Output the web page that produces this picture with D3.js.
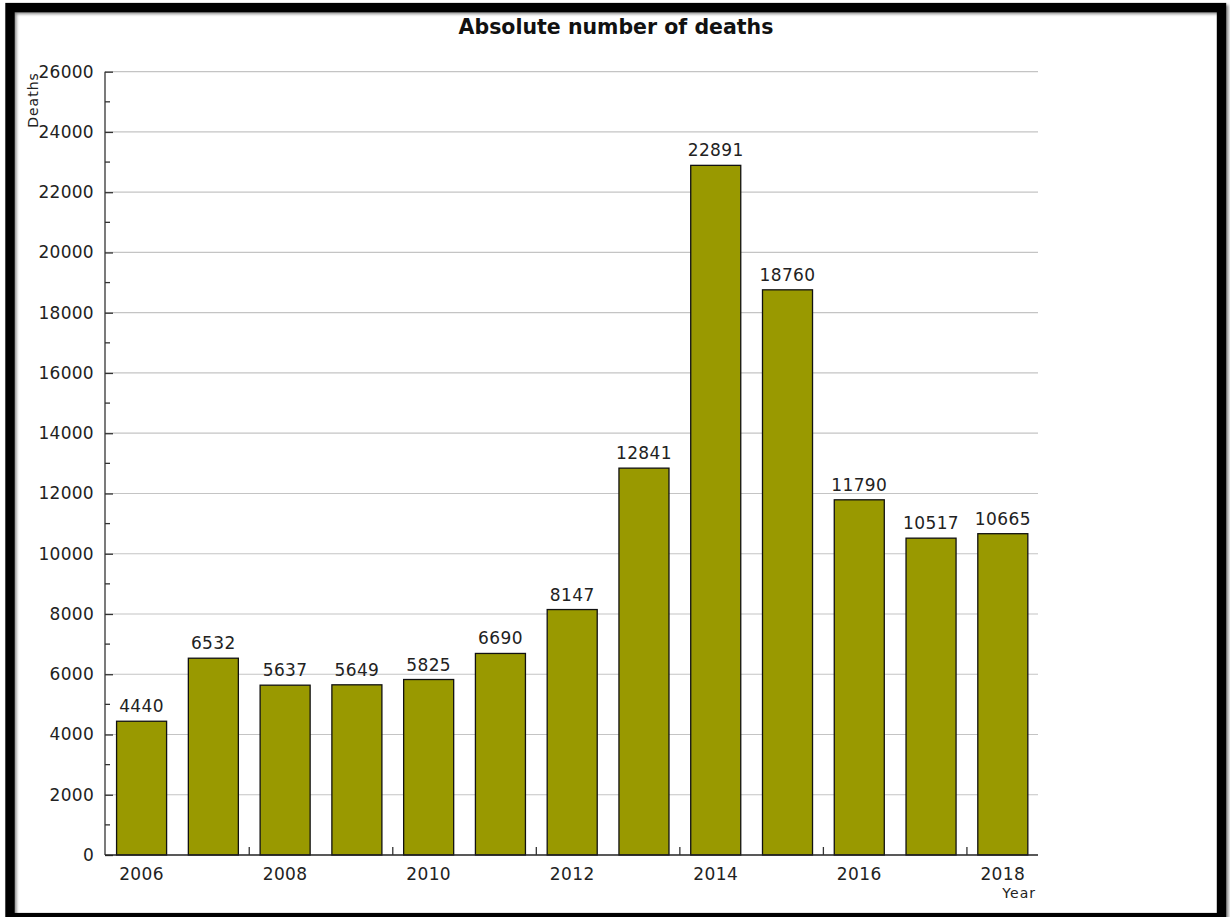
<!DOCTYPE html>
<html>
<head>
<meta charset="utf-8">
<script src="https://cdn.jsdelivr.net/npm/d3@7"></script>
<style>
  html, body { margin: 0; padding: 0; background: #fff; }
  svg { display: block; }
  text { font-family: "DejaVu Sans", sans-serif; fill: #222; }
</style>
</head>
<body>
<svg id="chart" width="1230" height="917"></svg>
<script>
// Absolute number of deaths per year
const years = ["2006", "2007", "2008", "2009", "2010", "2011", "2012",
               "2013", "2014", "2015", "2016", "2017", "2018"];
const deaths = [4440, 6532, 5637, 5649, 5825, 6690, 8147,
                12841, 22891, 18760, 11790, 10517, 10665];
const yTickValues = [0, 2000, 4000, 6000, 8000, 10000, 12000, 14000,
                     16000, 18000, 20000, 22000, 24000, 26000];
const xLabelYears = ["2006", "2008", "2010", "2012", "2014", "2016", "2018"];
const chartTitle = "Absolute number of deaths";
const yTitle = "Deaths";
const xTitle = "Year";

const data = years.map((y, i) => ({ year: y, value: deaths[i] }));

const svg = d3.select("#chart");

// plot box
const plotLeft = 105, plotRight = 1038, plotTop = 71.7, plotBottom = 855;

const x = d3.scaleBand()
  .domain(years)
  .range([plotLeft + 0.7, plotRight + 0.7])
  .paddingInner(0.303)
  .paddingOuter(0.1515);

const y = d3.scaleLinear()
  .domain([0, 26000])
  .range([plotBottom, plotTop]);

// frame with a soft shadow on the right
const defs = svg.append("defs");
const f = defs.append("filter").attr("id", "shadow")
  .attr("x", "-5%").attr("y", "-5%").attr("width", "110%").attr("height", "110%");
f.append("feGaussianBlur").attr("stdDeviation", 1.5);

svg.append("rect")
  .attr("x", 12).attr("y", 9.5)
  .attr("width", 1212).attr("height", 912)
  .attr("fill", "none").attr("stroke", "#888").attr("stroke-width", 9)
  .attr("filter", "url(#shadow)");
svg.append("rect")
  .attr("x", 10).attr("y", 7.6)
  .attr("width", 1211.5).attr("height", 910)
  .attr("fill", "none").attr("stroke", "#000").attr("stroke-width", 9.4);

// horizontal gridlines at the labelled ticks
svg.append("g")
  .selectAll("line")
  .data(yTickValues.filter(v => v > 0))
  .join("line")
  .attr("x1", plotLeft).attr("x2", plotRight)
  .attr("y1", d => y(d)).attr("y2", d => y(d))
  .attr("stroke", "#c4c4c4").attr("stroke-width", 1.2);

// bars
svg.append("g")
  .selectAll("rect")
  .data(data)
  .join("rect")
  .attr("x", d => x(d.year))
  .attr("y", d => y(d.value))
  .attr("width", x.bandwidth())
  .attr("height", d => y(0) - y(d.value))
  .attr("fill", "#999900")
  .attr("stroke", "#111")
  .attr("stroke-width", 1.3);

// value labels above bars
svg.append("g")
  .selectAll("text")
  .data(data)
  .join("text")
  .attr("x", d => x(d.year) + x.bandwidth() / 2)
  .attr("y", d => y(d.value) - 9)
  .attr("text-anchor", "middle")
  .style("font-size", "17px")
  .style("letter-spacing", "0.4px")
  .text(d => d.value);

// y axis: ticks point into the plot, minor ticks between
const yAxis = d3.axisRight(y)
  .tickValues(yTickValues)
  .tickSize(8)
  .tickFormat("");
const gy = svg.append("g").attr("transform", `translate(${plotLeft},0)`).call(yAxis);
gy.select(".domain").attr("stroke", "#333").attr("stroke-width", 1.3)
  .attr("d", `M0,${plotBottom}V${plotTop}`);
gy.selectAll(".tick line").attr("stroke", "#333").attr("stroke-width", 1.3);

const minorVals = d3.range(1000, 26000, 2000);
svg.append("g")
  .selectAll("line")
  .data(minorVals)
  .join("line")
  .attr("x1", plotLeft).attr("x2", plotLeft + 5)
  .attr("y1", d => y(d)).attr("y2", d => y(d))
  .attr("stroke", "#333").attr("stroke-width", 1.3);

svg.append("g")
  .selectAll("text")
  .data(yTickValues)
  .join("text")
  .attr("x", 94)
  .attr("y", d => y(d) + 6)
  .attr("text-anchor", "end")
  .style("font-size", "17px")
  .style("letter-spacing", "0.3px")
  .text(d => d);

// x axis
const gx = svg.append("g").attr("transform", `translate(0,${plotBottom})`);
gx.append("line")
  .attr("x1", plotLeft).attr("x2", plotRight)
  .attr("y1", 0).attr("y2", 0)
  .attr("stroke", "#222").attr("stroke-width", 1.4);

const gapHalf = (x.step() - x.bandwidth()) / 2;
gx.selectAll("line.tick")
  .data(xLabelYears.slice(1))
  .join("line")
  .attr("class", "tick")
  .attr("x1", d => x(d) - gapHalf).attr("x2", d => x(d) - gapHalf)
  .attr("y1", 0).attr("y2", -8)
  .attr("stroke", "#333").attr("stroke-width", 1.3);

gx.selectAll("text")
  .data(xLabelYears)
  .join("text")
  .attr("x", d => x(d) + x.bandwidth() / 2)
  .attr("y", 25)
  .attr("text-anchor", "middle")
  .style("font-size", "17px")
  .style("letter-spacing", "0.4px")
  .text(d => d);

// titles
svg.append("text")
  .attr("x", 616).attr("y", 33.5)
  .attr("text-anchor", "middle")
  .style("font-size", "20.5px")
  .style("font-weight", "bold")
  .style("fill", "#111")
  .text(chartTitle);

svg.append("text")
  .attr("transform", "translate(38,100) rotate(-90)")
  .attr("text-anchor", "middle")
  .style("font-size", "14px")
  .style("letter-spacing", "1px")
  .text(yTitle);

svg.append("text")
  .attr("x", 1036).attr("y", 898)
  .attr("text-anchor", "end")
  .style("font-size", "14px")
  .style("letter-spacing", "1px")
  .text(xTitle);
</script>
</body>
</html>
